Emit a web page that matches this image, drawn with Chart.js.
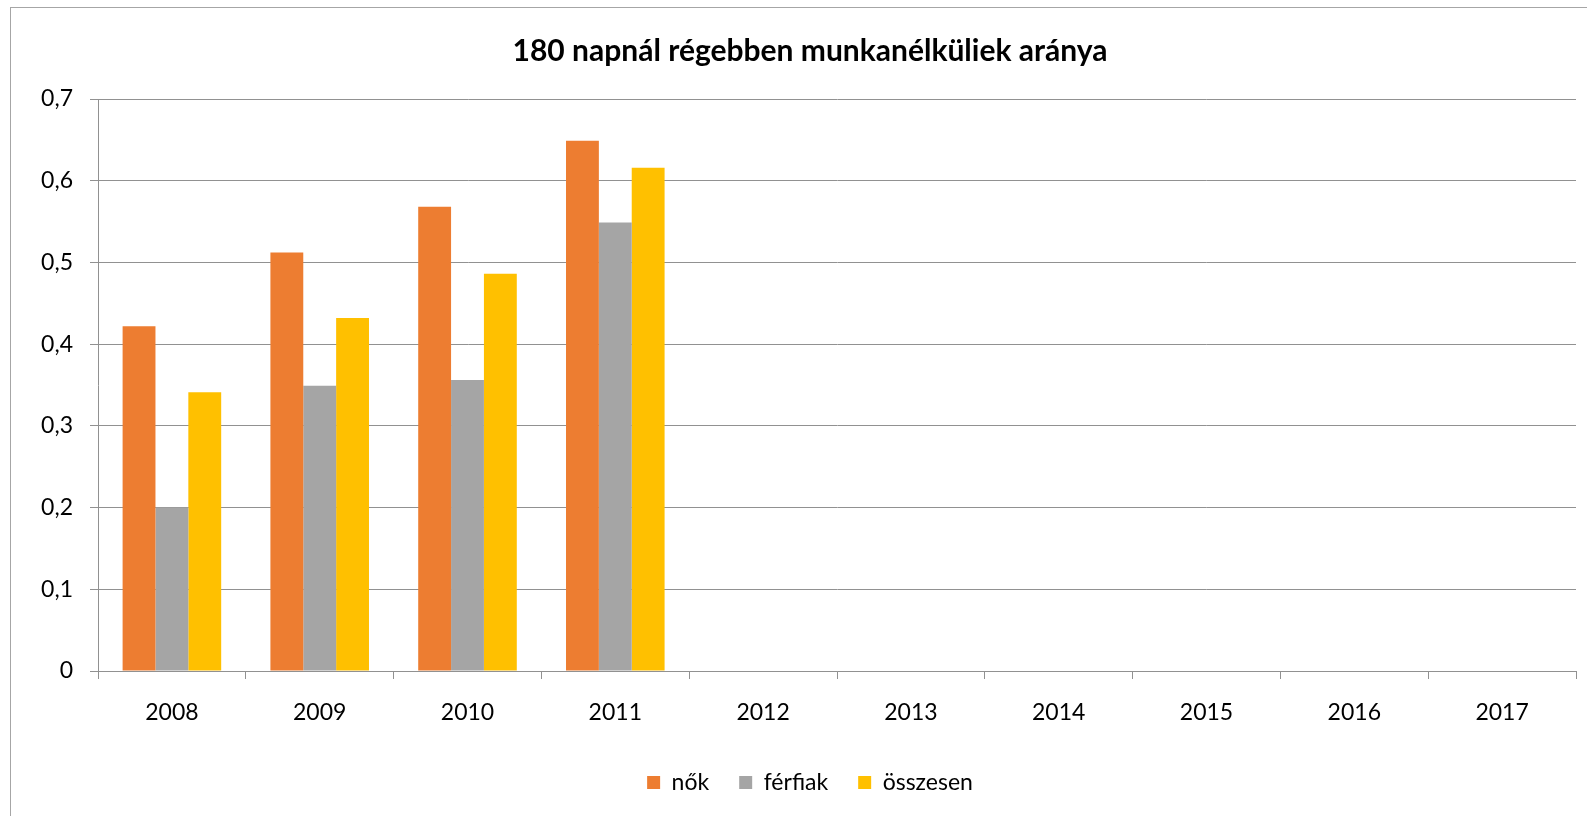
<!DOCTYPE html>
<html>
<head>
<meta charset="utf-8">
<script src="https://cdn.jsdelivr.net/npm/chart.js@4"></script>
<style>
  html, body { margin: 0; padding: 0; background: #fff; }
  #wrap { position: relative; width: 1587px; height: 816px; overflow: hidden; }
  #frame {
    position: absolute; left: 10px; top: 7px; width: 1600px; height: 900px;
    border-left: 1px solid #a6a6a6; border-top: 1px solid #a6a6a6;
  }
  canvas { position: absolute; left: 0; top: 0; }
</style>
</head>
<body>
<div id="wrap">
  <div id="frame"></div>
  <canvas id="chart" width="1587" height="816"></canvas>
</div>
<script>
const years = ["2008", "2009", "2010", "2011", "2012", "2013", "2014", "2015", "2016", "2017"];
const nok = [0.422, 0.512, 0.568, 0.649, null, null, null, null, null, null];
const ferfiak = [0.200, 0.349, 0.356, 0.549, null, null, null, null, null, null];
const osszesen = [0.341, 0.432, 0.486, 0.616, null, null, null, null, null, null];

const FONT = "Lato, 'Liberation Sans', sans-serif";
const gridGray = "#919191";

const fmt = (v) => Number(v.toFixed(1)).toString().replace(".", ",");

// the original centres title and legend a bit right of the canvas middle
const nudgeCentre = {
  id: "nudgeCentre",
  afterLayout(chart) {
    if (chart.titleBlock) chart.titleBlock.left += 44;
    if (chart.legend) chart.legend.left += 44;
  },
};

new Chart(document.getElementById("chart").getContext("2d"), {
  type: "bar",
  data: {
    labels: years,
    datasets: [
      { label: "nők", data: nok, backgroundColor: "#ED7D31" },
      { label: "férfiak", data: ferfiak, backgroundColor: "#A5A5A5" },
      { label: "összesen", data: osszesen, backgroundColor: "#FFC000" },
    ],
  },
  plugins: [nudgeCentre],
  options: {
    responsive: false,
    animation: false,
    layout: { padding: { left: 0, right: 11, top: 0, bottom: 15 } },
    datasets: {
      bar: { categoryPercentage: 0.667, barPercentage: 1.0 },
    },
    plugins: {
      title: {
        display: true,
        text: "180 napnál régebben munkanélküliek aránya",
        color: "#000",
        font: { family: FONT, size: 30, weight: "bold" },
        padding: { top: 33, bottom: 30 },
      },
      legend: {
        position: "bottom",
        maxHeight: 60,
        labels: {
          color: "#000",
          font: { family: FONT, size: 23 },
          boxWidth: 13,
          boxHeight: 13,
          padding: 30,
        },
      },
      tooltip: { enabled: false },
    },
    scales: {
      x: {
        grid: {
          drawOnChartArea: false,
          drawTicks: true,
          tickLength: 8,
          color: gridGray,
        },
        border: { color: gridGray },
        ticks: {
          color: "#000",
          font: { family: FONT, size: 23 },
          padding: 20,
          maxRotation: 0,
        },
        afterFit: (scale) => { scale.height = 70; },
      },
      y: {
        min: 0,
        max: 0.7,
        grid: { color: gridGray, tickLength: 8 },
        border: { color: gridGray },
        ticks: {
          stepSize: 0.1,
          color: "#000",
          font: { family: FONT, size: 23 },
          padding: 17,
          callback: (v) => fmt(v),
        },
        afterFit: (scale) => { scale.width = 98; },
      },
    },
  },
});
</script>
</body>
</html>
